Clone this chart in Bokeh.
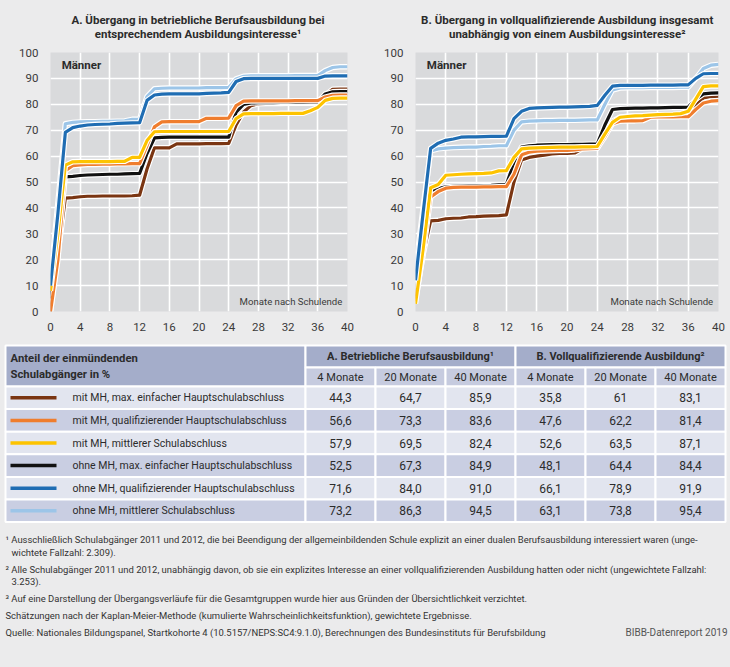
from bokeh.plotting import figure
from bokeh.layouts import column, row
from bokeh.models import Range1d, Label, FixedTicker
from bokeh.embed import file_html
from bokeh.resources import INLINE
from bokeh.core.properties import value

FONT = "Roboto"
BG = "#ebebec"
PLOT_BG = "#d9dadc"
TXT = "#2b2b2b"

months = list(range(41))

series_names = [
    "mit MH, max. einfacher Hauptschulabschluss",
    "mit MH, qualifizierender Hauptschulabschluss",
    "mit MH, mittlerer Schulabschluss",
    "ohne MH, max. einfacher Hauptschulabschluss",
    "ohne MH, qualifizierender Hauptschulabschluss",
    "ohne MH, mittlerer Schulabschluss",
]
series_colors = ["#7a3512", "#ef7d2e", "#fdc300", "#111111", "#1f6db3", "#9cc5e8"]

# Chart A: betriebliche Berufsausbildung (values by month 0..40)
a_mh_einfach = [0, 22, 43.8, 44.0, 44.3, 44.5, 44.5, 44.6, 44.6, 44.6, 44.6, 44.7, 44.9, 55.0, 63.2, 63.2, 63.2,
                64.7, 64.7, 64.7, 64.7, 64.8, 64.8, 64.8, 64.9, 72.0, 77.0, 79.5, 80.2, 80.3, 80.3, 80.3, 80.4,
                80.4, 80.4, 80.4, 80.5, 83.5, 85.8, 85.9, 85.9]
a_mh_qual = [0, 20, 54.4, 56.3, 56.6, 56.8, 56.8, 56.9, 56.9, 57.0, 57.0, 57.1, 57.1, 64.0, 71.3, 73.2, 73.3,
             73.3, 73.3, 73.3, 73.3, 74.6, 74.6, 74.6, 74.7, 79.5, 81.2, 81.3, 81.3, 81.3, 81.3, 81.3, 81.3,
             81.4, 81.4, 81.4, 81.4, 82.8, 83.5, 83.6, 83.6]
a_mh_mittl = [8, 30, 56.5, 57.8, 57.9, 57.9, 57.9, 57.9, 57.9, 58.0, 58.0, 59.5, 59.5, 66.0, 69.4, 69.5, 69.5,
              69.5, 69.5, 69.5, 69.5, 69.5, 69.5, 69.5, 69.5, 74.5, 76.3, 76.4, 76.4, 76.4, 76.4, 76.5, 76.5,
              76.5, 76.5, 77.5, 78.8, 81.5, 82.3, 82.4, 82.4]
a_ohne_einfach = [5, 28, 52.0, 52.2, 52.5, 52.7, 52.8, 52.9, 53.0, 53.0, 53.1, 53.2, 53.3, 61.0, 67.0, 67.2, 67.3,
                  67.3, 67.3, 67.3, 67.3, 67.3, 67.3, 67.3, 67.3, 77.0, 80.0, 80.5, 80.6, 80.6, 80.6, 80.7, 80.7,
                  80.7, 80.7, 80.8, 80.8, 84.0, 84.8, 84.9, 84.9]
a_ohne_qual = [10, 38, 69.2, 71.0, 71.6, 72.0, 72.2, 72.3, 72.4, 72.6, 72.7, 72.8, 72.9, 81.5, 83.6, 83.9, 84.0,
               84.0, 84.0, 84.0, 84.0, 84.2, 84.3, 84.4, 84.6, 88.8, 89.9, 90.0, 90.0, 90.0, 90.0, 90.0, 90.0,
               90.0, 90.0, 90.0, 90.0, 90.9, 91.0, 91.0, 91.0]
a_ohne_mittl = [12, 42, 72.5, 73.0, 73.2, 73.3, 73.3, 73.4, 73.4, 73.5, 73.6, 74.2, 74.3, 83.0, 86.0, 86.2, 86.3,
                86.3, 86.3, 86.3, 86.3, 86.4, 86.4, 86.4, 86.5, 89.8, 90.8, 91.0, 91.0, 91.0, 91.0, 91.0, 91.0,
                91.1, 91.1, 91.1, 91.1, 93.0, 94.2, 94.5, 94.5]

# Chart B: vollqualifizierende Ausbildung insgesamt
b_mh_einfach = [5, 22, 35.0, 35.2, 35.8, 36.0, 36.1, 36.5, 36.6, 36.8, 36.9, 37.0, 37.3, 50.0, 58.5, 59.5, 60.0,
                60.4, 60.8, 61.0, 61.0, 61.2, 62.8, 63.0, 63.1, 68.5, 73.5, 75.0, 75.4, 75.5, 75.6, 75.8, 75.9,
                76.0, 76.0, 76.0, 76.2, 79.5, 82.5, 83.0, 83.1]
b_mh_qual = [4, 22, 44.2, 46.3, 47.6, 47.9, 48.0, 48.0, 48.0, 48.1, 48.1, 48.2, 48.2, 53.0, 60.5, 61.5, 61.9,
             62.0, 62.1, 62.2, 62.2, 62.4, 62.8, 62.9, 63.0, 67.5, 72.5, 73.5, 73.6, 73.6, 73.7, 75.0, 75.1,
             75.1, 75.1, 75.2, 75.2, 78.0, 80.5, 81.2, 81.4]
b_mh_mittl = [3, 24, 47.8, 49.0, 52.6, 52.8, 53.0, 53.1, 53.2, 53.3, 53.5, 54.3, 54.4, 59.5, 62.8, 63.1, 63.2,
              63.3, 63.4, 63.5, 63.5, 63.5, 63.6, 63.6, 63.7, 68.5, 73.0, 75.0, 75.3, 75.5, 75.6, 75.8, 76.0,
              76.1, 76.2, 76.4, 77.3, 82.0, 86.8, 87.1, 87.1]
b_ohne_einfach = [6, 26, 46.5, 47.5, 48.1, 48.3, 48.4, 48.5, 48.5, 48.6, 48.7, 48.9, 49.0, 57.5, 63.5, 64.0, 64.2,
                  64.3, 64.4, 64.4, 64.4, 64.5, 64.5, 64.6, 64.7, 72.0, 78.0, 78.3, 78.4, 78.5, 78.5, 78.6, 78.6,
                  78.7, 78.8, 78.8, 78.9, 82.0, 84.0, 84.3, 84.4]
b_ohne_qual = [12, 38, 63.0, 65.0, 66.1, 66.6, 67.3, 67.4, 67.4, 67.5, 67.6, 67.6, 67.7, 74.5, 77.3, 78.4, 78.6,
               78.7, 78.8, 78.9, 78.9, 79.0, 79.1, 79.2, 79.6, 83.5, 87.0, 87.3, 87.3, 87.3, 87.3, 87.4, 87.4,
               87.4, 87.4, 87.5, 87.5, 90.0, 91.8, 91.9, 91.9]
b_ohne_mittl = [16, 40, 62.0, 62.8, 63.1, 63.3, 63.4, 63.5, 63.5, 63.7, 63.8, 64.0, 64.0, 70.0, 73.2, 73.5, 73.6,
                73.7, 73.7, 73.8, 73.8, 73.8, 73.9, 74.0, 74.0, 80.0, 85.5, 86.3, 86.4, 86.4, 86.4, 86.5, 86.5,
                86.5, 86.5, 86.6, 86.6, 90.0, 93.8, 95.1, 95.4]

series_a = [a_mh_einfach, a_mh_qual, a_mh_mittl, a_ohne_einfach, a_ohne_qual, a_ohne_mittl]
series_b = [b_mh_einfach, b_mh_qual, b_mh_mittl, b_ohne_einfach, b_ohne_qual, b_ohne_mittl]
draw_order = [0, 3, 1, 2, 5, 4]

x_ticks = list(range(0, 41, 4))
y_ticks = list(range(0, 101, 10))

titles_a = ["A. Übergang in betriebliche Berufsausbildung bei", "entsprechendem Ausbildungsinteresse¹"]
titles_b = ["B. Übergang in vollqualifizierende Ausbildung insgesamt", "unabhängig von einem Ausbildungsinteresse²"]

# Table values
tab_a4 = ["44,3", "56,6", "57,9", "52,5", "71,6", "73,2"]
tab_a20 = ["64,7", "73,3", "69,5", "67,3", "84,0", "86,3"]
tab_a40 = ["85,9", "83,6", "82,4", "84,9", "91,0", "94,5"]
tab_b4 = ["35,8", "47,6", "52,6", "48,1", "66,1", "63,1"]
tab_b20 = ["61", "62,2", "63,5", "64,4", "78,9", "73,8"]
tab_b40 = ["83,1", "81,4", "87,1", "84,4", "91,9", "95,4"]
col_headers = ["4 Monate", "20 Monate", "40 Monate", "4 Monate", "20 Monate", "40 Monate"]

footnotes = [
    "¹ Ausschließlich Schulabgänger 2011 und 2012, die bei Beendigung der allgemeinbildenden Schule explizit an einer dualen Berufsausbildung interessiert waren (unge-",
    "wichtete Fallzahl: 2.309).",
    "² Alle Schulabgänger 2011 und 2012, unabhängig davon, ob sie ein explizites Interesse an einer vollqualifizierenden Ausbildung hatten oder nicht (ungewichtete Fallzahl:",
    "3.253).",
    "³ Auf eine Darstellung der Übergangsverläufe für die Gesamtgruppen wurde hier aus Gründen der Übersichtlichkeit verzichtet.",
    "Schätzungen nach der Kaplan-Meier-Methode (kumulierte Wahrscheinlichkeitsfunktion), gewichtete Ergebnisse.",
    "Quelle: Nationales Bildungspanel, Startkohorte 4 (10.5157/NEPS:SC4:9.1.0), Berechnungen des Bundesinstituts für Berufsbildung",
]
source_right = "BIBB-Datenreport 2019"

W = 730


def canvas_fig(w, h, y0, y1):
    p = figure(width=w, height=h, x_range=Range1d(0, w), y_range=Range1d(y1, y0),
               output_backend="svg", toolbar_location=None, x_axis_type=None, y_axis_type=None,
               min_border=0, min_border_left=0, min_border_right=0, min_border_top=0, min_border_bottom=0)
    p.background_fill_color = BG
    p.border_fill_color = BG
    p.outline_line_color = None
    p.xgrid.visible = False
    p.ygrid.visible = False
    return p


def make_chart(series, mbl, mbr, mbt, mbb):
    p = figure(width=365, height=299, x_range=Range1d(0, 40), y_range=Range1d(0, 100),
               output_backend="svg", toolbar_location=None,
               min_border_left=mbl, min_border_right=mbr, min_border_top=mbt, min_border_bottom=mbb)
    p.background_fill_color = PLOT_BG
    p.border_fill_color = BG
    p.outline_line_color = None
    for ax in (p.xaxis, p.yaxis):
        ax.axis_line_color = None
        ax.major_tick_line_color = None
        ax.minor_tick_line_color = None
        ax.major_label_text_font = FONT
        ax.major_label_text_font_size = "11.5px"
        ax.major_label_text_color = "#3a3a3a"
    p.xaxis.ticker = FixedTicker(ticks=x_ticks)
    p.yaxis.ticker = FixedTicker(ticks=y_ticks)
    p.xaxis.major_label_standoff = 5
    p.yaxis.major_label_standoff = 6
    p.xgrid.ticker = FixedTicker(ticks=x_ticks)
    p.ygrid.ticker = FixedTicker(ticks=y_ticks)
    for g in (p.xgrid, p.ygrid):
        g.grid_line_color = "white"
        g.grid_line_width = 1.6
    for i in draw_order:
        p.line(months, series[i], line_color="white", line_width=5.5, line_join="round")
        p.line(months, series[i], line_color=series_colors[i], line_width=3.2, line_join="round")
    p.add_layout(Label(x=1.5, y=95, text="Männer", text_align="left", text_baseline="middle",
                       text_font=FONT, text_font_size="11.5px", text_font_style="bold", text_color=TXT))
    p.add_layout(Label(x=39.3, y=3.8, text="Monate nach Schulende", text_align="right", text_baseline="middle",
                       text_font=FONT, text_font_size="9.6px", text_color="#3a3a3a"))
    return p


# Header with the two chart titles (page pixel coordinates)
pH = canvas_fig(W, 44, 0, 44)
pH.text(x=[197.5, 197.5], y=[19, 33.5], text=titles_a, text_align="center", text_baseline="middle",
        text_font=value(FONT), text_font_size="11.5px", text_font_style="bold", text_color=TXT)
pH.text(x=[566.7, 566.7], y=[19, 33.5], text=titles_b, text_align="center", text_baseline="middle",
        text_font=value(FONT), text_font_size="11.5px", text_font_style="bold", text_color=TXT)

pA = make_chart(series_a, 50, 18, 6, 30)
pB = make_chart(series_b, 50, 12, 8, 32)

# Table + footnotes (page pixel coordinates)
pT = canvas_fig(W, 324, 343, 667)

HDR = "#a4adca"
SUB = "#c6cbdf"
ROW_L = "#e2e5ef"
ROW_D = "#c9cee2"

edges = [305, 375, 445, 515, 585, 655, 725]
tleft = 5
top0 = 345
h1 = 22
h2 = 19
rowh = 22.6
rtop = top0 + h1 + h2

pT.quad(left=[tleft, edges[0], edges[3]], right=[edges[0], edges[3], edges[6]],
        top=[top0, top0, top0], bottom=[rtop, top0 + h1, top0 + h1],
        fill_color=HDR, line_color="white", line_width=2)
pT.quad(left=edges[:-1], right=edges[1:], top=[top0 + h1] * 6, bottom=[rtop] * 6,
        fill_color=SUB, line_color="white", line_width=2)

n = len(series_names)
row_tops = [rtop + k * rowh for k in range(n)]
row_bots = [t + rowh for t in row_tops]
row_mid = [t + rowh / 2 for t in row_tops]
row_cols = [ROW_L if k % 2 == 0 else ROW_D for k in range(n)]
pT.quad(left=[tleft] * n, right=[edges[0]] * n, top=row_tops, bottom=row_bots,
        fill_color=row_cols, line_color="white", line_width=2)
for c in range(6):
    pT.quad(left=[edges[c]] * n, right=[edges[c + 1]] * n, top=row_tops, bottom=row_bots,
            fill_color=row_cols, line_color="white", line_width=2)

txt = dict(text_font=value(FONT), text_color=TXT)
pT.text(x=[10, 10], y=[top0 + 13, top0 + 29], text=["Anteil der einmündenden", "Schulabgänger in %"],
        text_align="left", text_baseline="middle", text_font_size="11.3px", text_font_style="bold", **txt)
pT.text(x=[(edges[0] + edges[3]) / 2, (edges[3] + edges[6]) / 2], y=[top0 + h1 / 2] * 2,
        text=["A. Betriebliche Berufsausbildung¹", "B. Vollqualifizierende Ausbildung²"],
        text_align="center", text_baseline="middle", text_font_size="11px", text_font_style="bold", **txt)
centers = [(edges[c] + edges[c + 1]) / 2 for c in range(6)]
pT.text(x=centers, y=[top0 + h1 + h2 / 2] * 6, text=col_headers, text_align="center",
        text_baseline="middle", text_font_size="11px", **txt)

for k in range(n):
    pT.line([10, 56], [row_mid[k], row_mid[k]], line_color=series_colors[k], line_width=3.5)
pT.text(x=[72] * n, y=row_mid, text=series_names, text_align="left", text_baseline="middle",
        text_font_size="10.5px", **txt)
for c, vals in enumerate([tab_a4, tab_a20, tab_a40, tab_b4, tab_b20, tab_b40]):
    pT.text(x=[centers[c]] * n, y=row_mid, text=vals, text_align="center", text_baseline="middle",
            text_font_size="12px", **txt)

fn_x = [5, 11, 5, 11, 5, 5, 5]
fn_y = [539, 552, 569, 581, 598, 615, 632]
pT.text(x=fn_x, y=fn_y, text=footnotes, text_align="left", text_baseline="middle",
        text_font_size="9.45px", text_font=value(FONT), text_color="#333333")
pT.text(x=[727], y=[632], text=[source_right], text_align="right", text_baseline="middle",
        text_font_size="10px", text_font=value(FONT), text_color="#555555")

layout = column(pH, row(pA, pB, spacing=0), pT, spacing=0)
html = file_html(layout, INLINE)
html = html.replace("<body>", '<body style="background-color:%s;">' % BG)
open("out.html", "w").write(html)
